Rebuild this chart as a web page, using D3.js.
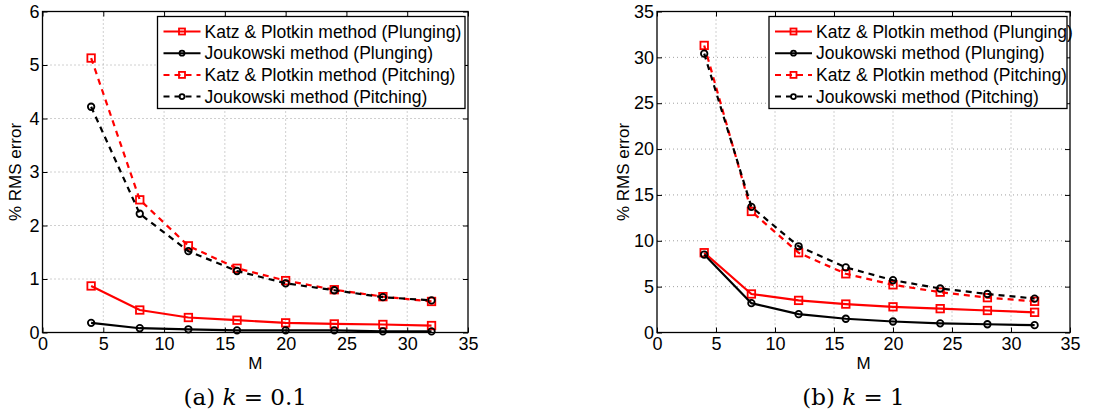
<!DOCTYPE html>
<html>
<head>
<meta charset="utf-8">
<script src="https://cdn.jsdelivr.net/npm/d3@7"></script>
<style>
  html, body { margin: 0; padding: 0; background: #fff; }
  svg { display: block; }
  text { font-family: "Liberation Sans", Arial, sans-serif; }
</style>
</head>
<body>
<svg id="chart" width="1098" height="410"></svg>
<script>
// ---- Data ----
const M = [4, 8, 12, 16, 20, 24, 28, 32];
const seriesNames = [
  "Katz & Plotkin method (Plunging)",
  "Joukowski method (Plunging)",
  "Katz & Plotkin method (Pitching)",
  "Joukowski method (Pitching)"
];
// panel (a) k = 0.1
const katzPlungeA = [0.87, 0.42, 0.28, 0.23, 0.18, 0.16, 0.15, 0.13];
const joukPlungeA = [0.18, 0.08, 0.06, 0.04, 0.04, 0.04, 0.02, 0.02];
const katzPitchA  = [5.13, 2.48, 1.62, 1.20, 0.97, 0.80, 0.67, 0.58];
const joukPitchA  = [4.22, 2.22, 1.52, 1.15, 0.92, 0.79, 0.66, 0.60];
// panel (b) k = 1
const katzPlungeB = [8.7, 4.2, 3.5, 3.1, 2.8, 2.6, 2.4, 2.2];
const joukPlungeB = [8.5, 3.2, 2.0, 1.5, 1.2, 1.0, 0.9, 0.8];
const katzPitchB  = [31.3, 13.2, 8.7, 6.4, 5.2, 4.4, 3.8, 3.4];
const joukPitchB  = [30.4, 13.7, 9.4, 7.1, 5.7, 4.8, 4.2, 3.7];
const xTicks = [0, 5, 10, 15, 20, 25, 30, 35];
const yTicksA = [0, 1, 2, 3, 4, 5, 6];
const yTicksB = [0, 5, 10, 15, 20, 25, 30, 35];

const styles = [
  {color: "#ff0000", dash: null, marker: "square"},
  {color: "#000000", dash: null, marker: "circle"},
  {color: "#ff0000", dash: "6,5", marker: "square"},
  {color: "#000000", dash: "6,5", marker: "circle"}
];

const svg = d3.select("#chart");

function drawMarker(g, kind, cx, cy, color, size) {
  if (kind === "square") {
    g.append("rect").attr("x", cx - size/2).attr("y", cy - size/2)
      .attr("width", size).attr("height", size)
      .attr("fill", "none").attr("stroke", color).attr("stroke-width", 1.8);
  } else {
    g.append("circle").attr("cx", cx).attr("cy", cy).attr("r", size/2 - 0.5)
      .attr("fill", "none").attr("stroke", color).attr("stroke-width", 1.8);
  }
}

function panel(opts) {
  const {left, right, top, bottom, yMax, yTicks, series, caption, legendLeft, ylabelX} = opts;
  const x = d3.scaleLinear().domain([0, 35]).range([left, right]);
  const y = d3.scaleLinear().domain([0, yMax]).range([bottom, top]);
  const g = svg.append("g");
  const fmt = d3.format("d");

  // grid
  g.append("g").selectAll("line").data(xTicks.slice(1, -1)).join("line")
    .attr("x1", d => x(d)).attr("x2", d => x(d)).attr("y1", top).attr("y2", bottom)
    .attr("stroke", "#a0a0a0").attr("stroke-width", 1).attr("stroke-dasharray", "1,3");
  g.append("g").selectAll("line").data(yTicks.slice(1, -1)).join("line")
    .attr("x1", left).attr("x2", right).attr("y1", d => y(d)).attr("y2", d => y(d))
    .attr("stroke", "#a0a0a0").attr("stroke-width", 1).attr("stroke-dasharray", "1,3");

  // axes with inward ticks (MATLAB style)
  const tl = 5;
  const xb = g.append("g").attr("transform", `translate(0,${bottom})`)
    .call(d3.axisBottom(x).tickValues(xTicks).tickFormat(fmt).tickSizeInner(-tl).tickSizeOuter(0).tickPadding(5));
  const xt = g.append("g").attr("transform", `translate(0,${top})`)
    .call(d3.axisTop(x).tickValues(xTicks).tickSizeInner(-tl).tickSizeOuter(0).tickFormat(""));
  const yl = g.append("g").attr("transform", `translate(${left},0)`)
    .call(d3.axisLeft(y).tickValues(yTicks).tickFormat(fmt).tickSizeInner(-tl).tickSizeOuter(0).tickPadding(3));
  const yr = g.append("g").attr("transform", `translate(${right},0)`)
    .call(d3.axisRight(y).tickValues(yTicks).tickSizeInner(-tl).tickSizeOuter(0).tickFormat(""));
  [xb, xt, yl, yr].forEach(a => {
    a.select(".domain").remove();
    a.selectAll("line").attr("stroke", "#000").attr("stroke-width", 1);
    a.selectAll("text").attr("font-size", 18).attr("fill", "#000")
      .style("font-family", '"Liberation Sans", Arial, sans-serif');
  });
  // box
  g.append("rect").attr("x", left).attr("y", top).attr("width", right - left).attr("height", bottom - top)
    .attr("fill", "none").attr("stroke", "#000").attr("stroke-width", 1.3);

  const line = d3.line().x((d, i) => x(M[i])).y(d => y(d));
  const order = [2, 3, 0, 1];
  order.forEach(si => {
    const st = styles[si];
    const vals = series[si];
    g.append("path").datum(vals).attr("d", line)
      .attr("fill", "none").attr("stroke", st.color).attr("stroke-width", 2.2)
      .attr("stroke-dasharray", st.dash);
    const mg = g.append("g");
    vals.forEach((v, i) => drawMarker(mg, st.marker, x(M[i]), y(v), st.color, 7.5));
  });

  // labels
  svg.append("text").attr("x", (left + right) / 2).attr("y", bottom + 36)
    .attr("text-anchor", "middle").attr("font-size", 17).text("M");
  svg.append("text").attr("transform", `translate(${ylabelX},${(top + bottom) / 2}) rotate(-90)`)
    .attr("text-anchor", "middle").attr("font-size", 17).text("% RMS error");

  // legend
  const lg = svg.append("g");
  const rowH = 21.7;
  const lx = legendLeft, ly = top + 5;
  const lw = right - 3 - lx, lh = 92;
  lg.append("rect").attr("x", lx).attr("y", ly).attr("width", lw).attr("height", lh)
    .attr("fill", "#fff").attr("stroke", "#000").attr("stroke-width", 1.3);
  seriesNames.forEach((name, i) => {
    const st = styles[i];
    const cy = ly + 15 + i * rowH;
    lg.append("line").attr("x1", lx + 6).attr("x2", lx + 43).attr("y1", cy).attr("y2", cy)
      .attr("stroke", st.color).attr("stroke-width", 2).attr("stroke-dasharray", st.dash ? "6,5" : null);
    drawMarker(lg, st.marker, lx + 24.5, cy, st.color, 6);
    lg.append("text").attr("x", lx + 47).attr("y", cy + 6).attr("font-size", 17.5).text(name);
  });

  // caption
  const cap = svg.append("text").attr("x", (left + right) / 2 - 10).attr("y", 405)
    .attr("text-anchor", "middle").attr("font-size", 23)
    .style("font-family", '"DejaVu Serif", "Liberation Serif", serif');
  cap.append("tspan").text(caption[0] + " ");
  cap.append("tspan").attr("font-style", "italic").text("k");
  cap.append("tspan").text(" = " + caption[1]);
}

panel({left: 42.5, right: 468, top: 11.5, bottom: 332.5, yMax: 6, yTicks: yTicksA,
  series: [katzPlungeA, joukPlungeA, katzPitchA, joukPitchA], caption: ["(a)", "0.1"],
  legendLeft: 157.5, ylabelX: 21});
panel({left: 657, right: 1070, top: 11.5, bottom: 332.5, yMax: 35, yTicks: yTicksB,
  series: [katzPlungeB, joukPlungeB, katzPitchB, joukPitchB], caption: ["(b)", "1"],
  legendLeft: 769, ylabelX: 629});
</script>
</body>
</html>
